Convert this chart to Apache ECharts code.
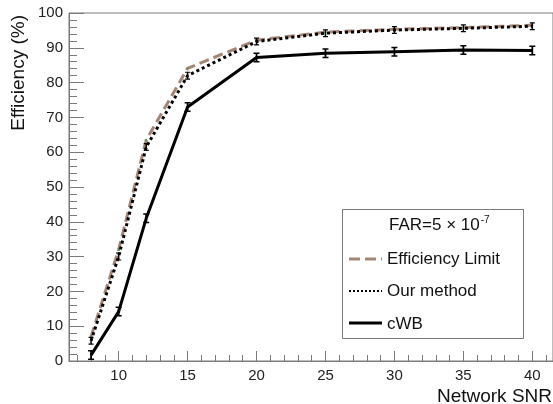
<!DOCTYPE html>
<html>
<head>
<meta charset="utf-8">
<script src="https://cdn.jsdelivr.net/npm/echarts@6/dist/echarts.min.js"></script>
<style>html,body{margin:0;padding:0;background:#fff;}#c{width:553px;height:404px;}</style>
</head>
<body>
<div id="c"></div>
<script>
const snr = [8, 10, 12, 15, 20, 25, 30, 35, 40];
const effLimit = [7.0, 32.0, 63.5, 84.1, 92.2, 94.5, 95.3, 95.8, 96.5];
const ourMethod = [5.8, 30.0, 61.5, 82.0, 91.8, 94.2, 95.1, 95.6, 96.2];
const cwb = [1.7, 14.2, 41.0, 73.0, 87.2, 88.4, 88.9, 89.4, 89.2];
const xMajorTicks = [10, 15, 20, 25, 30, 35, 40];
const xMinorTicks = [7,8,9,10,11,12,13,14,15,16,17,18,19,20,21,22,23,24,25,26,27,28,29,30,31,32,33,34,35,36,37,38,39,40,41];
const legendNames = ['Efficiency Limit', 'Our method', 'cWB'];

const FONT = '"Liberation Sans", Arial, Helvetica, sans-serif';
const AX = '#7a7a7a';
const BROWN = '#a58574';
const ibeam = 'path://M0,0h6v1.5h-2.1v7h2.1v1.5h-6v-1.5h2.1v-7h-2.1z';

const pair = (ys) => snr.map((x, i) => [x, ys[i]]);

const chart = echarts.init(document.getElementById('c'), null, {renderer: 'canvas'});
chart.setOption({
  animation: false,
  backgroundColor: '#fff',
  grid: {left: 69, top: 13, right: -3, bottom: 43, show: true, borderColor: AX, borderWidth: 1, backgroundColor: 'transparent'},
  xAxis: [{
    type: 'value', min: 6.4, max: 41.5,
    axisLine: {show: true, onZero: false, lineStyle: {color: AX, width: 1}},
    axisTick: {show: true, inside: true, length: 10, customValues: xMajorTicks, lineStyle: {color: AX}},
    axisLabel: {show: true, customValues: xMajorTicks, margin: 7, fontSize: 15, fontFamily: FONT, color: '#222'},
    splitLine: {show: false}
  }, {
    type: 'value', min: 6.4, max: 41.5, position: 'bottom',
    axisLine: {show: false},
    axisTick: {show: true, inside: true, length: 6, customValues: xMinorTicks, lineStyle: {color: AX}},
    axisLabel: {show: false},
    splitLine: {show: false}
  }],
  yAxis: {
    type: 'value', min: 0, max: 100, interval: 10,
    axisLine: {show: true, lineStyle: {color: AX, width: 1}},
    axisTick: {show: true, inside: true, length: 15, lineStyle: {color: AX}},
    minorTick: {show: true, splitNumber: 5, length: 8, lineStyle: {color: AX}},
    axisLabel: {margin: 6, fontSize: 15, fontFamily: FONT, color: '#222'},
    splitLine: {show: false}
  },
  series: [{
    name: legendNames[0], type: 'line', data: pair(effLimit),
    symbol: 'circle', symbolSize: 2, itemStyle: {color: '#3c9a3c'},
    lineStyle: {color: BROWN, width: 3, type: [10, 5]}, z: 2
  }, {
    name: legendNames[1], type: 'line', data: pair(ourMethod),
    symbol: ibeam, symbolSize: [5, 8], itemStyle: {color: '#000'},
    lineStyle: {color: '#000', width: 3, type: [3, 3]}, z: 3
  }, {
    name: legendNames[2], type: 'line', data: pair(cwb),
    symbol: ibeam, symbolSize: [6, 10], itemStyle: {color: '#000'},
    lineStyle: {color: '#000', width: 3}, z: 4
  }],
  graphic: [
    {type: 'text', x: 552, y: 397, style: {text: 'Network SNR', fontSize: 19, fontFamily: FONT, fill: '#111', align: 'right', verticalAlign: 'middle'}},
    {type: 'text', x: 19, y: 15, rotation: Math.PI / 2, style: {text: 'Efficiency (%)', fontSize: 19, fontFamily: FONT, fill: '#111', align: 'right', verticalAlign: 'middle'}},
    {type: 'rect', shape: {x: 342.5, y: 209.5, width: 181, height: 129}, style: {fill: '#fff', stroke: AX, lineWidth: 1}, z: 10},
    {type: 'text', x: 389, y: 225, z: 11, style: {
      text: '{m|FAR=5 × 10}{s|-7}', fontFamily: FONT, verticalAlign: 'middle', align: 'left',
      rich: {m: {fontSize: 17, fontFamily: FONT, fill: '#111'}, s: {fontSize: 10, fontFamily: FONT, fill: '#111', verticalAlign: 'top', padding: [0, 0, 10, 1]}}
    }},
    {type: 'line', z: 11, shape: {x1: 349, y1: 259, x2: 382, y2: 259}, style: {stroke: BROWN, lineWidth: 3, lineDash: [11, 5]}},
    {type: 'text', x: 387, y: 259, z: 11, style: {text: legendNames[0], fontSize: 17, fontFamily: FONT, fill: '#111', verticalAlign: 'middle'}},
    {type: 'line', z: 11, shape: {x1: 349, y1: 291, x2: 382, y2: 291}, style: {stroke: '#000', lineWidth: 2, lineDash: [2, 2]}},
    {type: 'text', x: 387, y: 291, z: 11, style: {text: legendNames[1], fontSize: 17, fontFamily: FONT, fill: '#111', verticalAlign: 'middle'}},
    {type: 'line', z: 11, shape: {x1: 349, y1: 323, x2: 382, y2: 323}, style: {stroke: '#000', lineWidth: 3}},
    {type: 'text', x: 387, y: 324, z: 11, style: {text: legendNames[2], fontSize: 17, fontFamily: FONT, fill: '#111', verticalAlign: 'middle'}}
  ]
});
</script>
</body>
</html>
